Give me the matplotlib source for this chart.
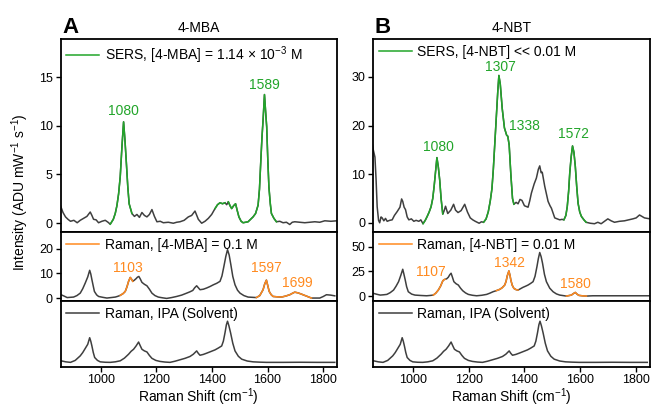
import numpy as np
import matplotlib

matplotlib.use("Agg")
import matplotlib.pyplot as plt

plt.rcParams["font.family"] = ["Liberation Sans", "DejaVu Sans"]
plt.rcParams["mathtext.fontset"] = "custom"
plt.rcParams["mathtext.rm"] = "Liberation Sans"
plt.rcParams["mathtext.it"] = "Liberation Sans:italic"
plt.rcParams["mathtext.bf"] = "Liberation Sans:bold"

# ---- spectra (Raman shift in cm-1, intensity) ----
mba_sers_x = [855, 864, 873, 882, 891, 903, 915, 926, 938, 950, 962, 968, 974, 983, 992, 1004, 1016,
              1026, 1034, 1045, 1052, 1058, 1064, 1070, 1076, 1082, 1087, 1092, 1097, 1102, 1112,
              1121, 1130, 1139, 1148, 1157, 1166, 1175, 1184, 1193, 1202, 1214, 1225, 1243, 1261,
              1273, 1285, 1300, 1315, 1327, 1339, 1351, 1363, 1375, 1387, 1399, 1411, 1420, 1429,
              1438, 1447, 1453, 1459, 1465, 1471, 1478, 1485, 1491, 1497, 1505, 1512, 1521, 1530,
              1539, 1548, 1557, 1566, 1571, 1576, 1580, 1584, 1589, 1593, 1597, 1601, 1605, 1610,
              1614, 1623, 1632, 1644, 1656, 1668, 1680, 1689, 1698, 1716, 1734, 1752, 1770, 1788,
              1806, 1828, 1850]
mba_sers_y = [1.8, 1.1, 0.65, 0.4, 0.2, 0.3, 0.05, 0.3, 0.5, 0.7, 1.15, 0.8, 0.4, 0.35, 0.05, 0.2,
              0.3, 0.1, -0.1, 0.4, 1.0, 1.8, 3.0, 4.8, 7.8, 10.4, 8.5, 6.2, 3.8, 2.0, 1.0, 0.7, 0.9,
              0.6, 1.1, 0.8, 0.65, 0.9, 1.4, 0.7, 0.15, 0.2, 0.05, 0.1, 0.0, 0.1, 0.15, 0.3, 0.65,
              0.8, 1.25, 0.4, 0.0, 0.2, 0.5, 0.9, 1.5, 1.9, 2.1, 2.0, 2.1, 1.9, 2.2, 1.8, 1.5, 1.8,
              2.0, 1.3, 0.65, 0.2, 0.05, 0.1, 0.15, 0.4, 0.65, 1.0, 1.85, 3.5, 6.5, 8.8, 10.6, 13.2,
              11.5, 9.9, 6.5, 3.7, 2.0, 1.0, 0.5, 0.15, 0.2, 0.05, 0.1, -0.13, 0.1, 0.15, 0.1, 0.05,
              0.1, 0.15, 0.1, 0.25, 0.2, 0.25]

nbt_sers_x = [852, 856, 862, 866, 870, 875, 879, 884, 888, 894, 900, 906, 915, 924, 932, 942, 952,
              958, 962, 967, 972, 978, 984, 993, 1002, 1010, 1020, 1027, 1035, 1043, 1050, 1057,
              1064, 1070, 1075, 1080, 1085, 1090, 1095, 1100, 1106, 1110, 1116, 1124, 1135, 1145,
              1152, 1161, 1172, 1185, 1195, 1205, 1214, 1223, 1237, 1245, 1253, 1262, 1270, 1277,
              1283, 1288, 1292, 1296, 1300, 1304, 1308, 1313, 1320, 1328, 1336, 1340, 1345, 1351,
              1357, 1362, 1370, 1377, 1384, 1391, 1400, 1413, 1419, 1425, 1435, 1443, 1450, 1455,
              1460, 1464, 1473, 1485, 1492, 1497, 1509, 1518, 1527, 1535, 1542, 1549, 1554, 1559,
              1563, 1568, 1573, 1578, 1583, 1588, 1593, 1599, 1605, 1614, 1622, 1637, 1652, 1664,
              1676, 1688, 1700, 1712, 1724, 1742, 1760, 1775, 1790, 1802, 1814, 1823, 1832, 1852]
nbt_sers_y = [16.4, 15.0, 13.5, 9.0, 3.3, 0.5, 0.0, 1.2, 1.0, 0.4, 0.9, 0.3, 0.5, 0.6, 1.5, 2.3,
              3.2, 4.9, 4.4, 3.2, 2.7, 1.2, 0.6, 0.8, 0.3, 0.5, 0.3, 0.6, -0.2, 0.5, 1.3, 2.2, 3.3,
              5.0, 7.5, 10.5, 13.4, 11.5, 8.8, 5.0, 1.8, 2.3, 3.4, 1.9, 2.6, 3.8, 2.6, 2.1, 2.5, 3.8,
              2.2, 1.0, 0.6, 0.3, -0.1, 0.2, 0.1, 0.8, 2.3, 4.5, 7.0, 11.0, 15.0, 19.0, 23.0, 27.0,
              30.3, 28.5, 23.5, 19.5, 18.0, 17.8, 16.0, 10.0, 5.0, 3.8, 4.2, 3.9, 4.8, 4.6, 3.5, 3.2,
              4.5, 6.1, 8.0, 9.2, 11.0, 11.7, 10.3, 10.4, 7.5, 4.4, 3.5, 3.0, 1.0, 0.8, 0.6, 0.7,
              0.6, 1.5, 3.3, 6.5, 10.2, 13.5, 15.8, 14.5, 11.6, 7.5, 4.0, 2.2, 1.3, 0.6, 0.1, -0.1,
              -0.2, 0.1, -0.2, 0.3, 0.8, 0.4, 0.1, 0.3, 0.4, 0.6, 0.8, 1.0, 1.6, 1.3, 1.0, 0.8]

mba_raman_x = [857, 868, 879, 890, 902, 914, 926, 935, 944, 953, 960, 964, 968, 973, 977, 985, 992,
               1007, 1022, 1037, 1052, 1061, 1070, 1080, 1088, 1094, 1100, 1106, 1110, 1115, 1121,
               1127, 1132, 1137, 1142, 1148, 1157, 1166, 1175, 1184, 1195, 1207, 1222, 1237, 1255,
               1273, 1291, 1309, 1320, 1331, 1338, 1345, 1351, 1357, 1369, 1381, 1393, 1405, 1417,
               1429, 1436, 1443, 1450, 1456, 1462, 1468, 1475, 1483, 1492, 1501, 1515, 1530, 1545,
               1560, 1572, 1584, 1590, 1596, 1601, 1606, 1613, 1620, 1635, 1650, 1665, 1680, 1689,
               1698, 1710, 1722, 1740, 1758, 1773, 1788, 1800, 1812, 1827, 1842]
mba_raman_y = [1.35, 0.8, 0.2, 0.3, 0.4, 1.0, 2.0, 3.8, 6.1, 8.6, 11.3, 9.8, 7.5, 4.8, 2.7, 1.3,
               0.65, 0.3, 0.0, 0.2, 0.4, 0.7, 1.1, 1.8, 2.7, 4.5, 6.8, 8.4, 7.8, 6.8, 7.3, 7.9, 8.5,
               8.8, 7.8, 6.4, 5.6, 5.0, 3.6, 2.0, 1.0, 0.4, 0.1, -0.15, 0.2, 0.65, 1.2, 2.0, 2.5,
               3.1, 4.2, 5.0, 4.2, 3.4, 3.6, 4.1, 4.7, 5.4, 6.0, 6.8, 9.0, 12.9, 17.0, 19.7, 17.5,
               13.6, 8.8, 5.4, 3.2, 2.0, 1.0, 0.4, 0.3, 0.2, 1.0, 3.4, 5.8, 7.3, 5.0, 2.7, 1.4, 0.65,
               0.5, 0.4, 0.8, 1.35, 1.9, 2.4, 2.1, 1.6, 0.8, 0.0, 0.0, 0.0, 0.6, 1.35, 1.2, 0.9]

nbt_raman_x = [857, 869, 881, 893, 905, 917, 929, 938, 947, 955, 962, 966, 971, 976, 982, 994, 1006,
               1027, 1048, 1060, 1072, 1081, 1090, 1098, 1106, 1110, 1114, 1120, 1126, 1131, 1136,
               1141, 1146, 1154, 1162, 1170, 1178, 1188, 1198, 1213, 1228, 1246, 1264, 1276, 1287,
               1299, 1311, 1320, 1329, 1334, 1338, 1344, 1348, 1351, 1356, 1362, 1370, 1377, 1386,
               1395, 1404, 1413, 1422, 1431, 1438, 1445, 1450, 1455, 1460, 1465, 1472, 1479, 1491,
               1503, 1515, 1527, 1539, 1551, 1560, 1569, 1576, 1583, 1590, 1596, 1610, 1623, 1646,
               1670, 1706, 1742, 1772, 1802, 1826, 1850]
nbt_raman_y = [2.7, 1.8, 1.0, 1.3, 1.7, 3.5, 6.1, 10.0, 14.6, 21.0, 27.2, 22.5, 16.3, 9.5, 4.4, 2.0,
               1.0, 0.6, 0.3, 0.6, 1.0, 3.0, 6.1, 10.0, 15.3, 16.5, 17.0, 17.5, 19.1, 21.5, 23.2,
               19.0, 14.6, 12.5, 11.2, 8.0, 5.4, 3.2, 1.7, 0.8, 0.3, 0.8, 1.7, 3.0, 4.4, 5.5, 6.8, 8.5,
               11.2, 15.0, 20.4, 25.5, 21.0, 16.3, 11.0, 7.8, 6.5, 6.1, 7.5, 8.9, 10.0, 11.2, 12.8,
               14.6, 20.0, 29.9, 38.0, 44.2, 40.0, 33.4, 22.0, 14.6, 8.0, 4.4, 2.2, 1.0, 0.5, 0.0, 0.5,
               1.0, 2.5, 3.7, 1.8, 0.7, 0.2, 0.0, 0.3, 0.3, 0.3, 0.3, 0.3, 0.3, 0.3, 0.3]

ipa_x = [857, 874, 891, 908, 926, 935, 944, 953, 960, 964, 968, 973, 978, 988, 998, 1016, 1034,
         1052, 1070, 1085, 1100, 1109, 1118, 1127, 1136, 1142, 1148, 1157, 1166, 1175, 1184, 1198,
         1213, 1231, 1249, 1267, 1285, 1303, 1321, 1333, 1345, 1351, 1357, 1369, 1381, 1396, 1411,
         1423, 1435, 1441, 1447, 1452, 1456, 1461, 1467, 1475, 1483, 1495, 1507, 1527, 1548, 1572,
         1596, 1656, 1716, 1779, 1842]
ipa_y = [1.0, 0.5, 0.25, 1.2, 3.4, 5.0, 7.0, 9.0, 12.2, 10.5, 8.2, 5.0, 2.6, 1.2, 0.5, 0.3, 0.25,
         0.5, 1.0, 2.3, 4.2, 5.6, 6.6, 8.2, 10.1, 8.3, 6.6, 5.8, 5.3, 3.6, 2.2, 1.2, 0.7, 0.4, 0.25,
         0.8, 1.5, 2.2, 3.1, 4.2, 5.8, 4.6, 3.7, 4.1, 4.7, 5.5, 6.3, 7.2, 8.2, 10.5, 14.6, 18.5,
         20.2, 18.0, 14.6, 9.5, 5.8, 3.2, 1.8, 0.9, 0.5, 0.35, 0.25, 0.25, 0.3, 0.25, 0.25]

# highlighted (coloured) ranges of each spectrum
mba_sers_hl = [(1030, 1112), (1400, 1447), (1459, 1640)]
nbt_sers_hl = [(1030, 1106), (1250, 1363), (1540, 1625)]
mba_raman_hl = [(1065, 1115), (1555, 1760)]
nbt_raman_hl = [(1065, 1116), (1299, 1378), (1545, 1625)]

# peak labels: text, x, y (text baseline, data units), alignment
mba_sers_labels = [("1080", 1081, 11.1, "center"), ("1589", 1590, 13.8, "center")]
nbt_sers_labels = [("1080", 1089, 14.8, "center"), ("1307", 1315, 31.2, "center"),
                   ("1338", 1343, 19.1, "left"), ("1572", 1577, 17.5, "center")]
mba_raman_labels = [("1103", 1099, 10.7, "center"), ("1597", 1597, 10.7, "center"),
                    ("1699", 1708, 4.6, "center")]
nbt_raman_labels = [("1107", 1064, 20.4, "center"), ("1342", 1347, 29.6, "center"),
                    ("1580", 1582, 8.2, "center")]

GREEN = "#22a52a"
ORANGE = "#ff8a1f"
GRAY = "#3f3f3f"
LW = 1.1
FS = 10

W, H = 651, 409
fig = plt.figure(figsize=(W / 100, H / 100), dpi=100)


def box(px_left, px_top, px_bottom):
    return [px_left / W, 1 - px_bottom / H, 276.5 / W, (px_bottom - px_top) / H]


def style_axes(ax, show_x):
    for s in ax.spines.values():
        s.set_linewidth(1.3)
    ax.set_xlim(855, 1850)
    ax.tick_params(axis="both", direction="out", length=3.5, width=1, labelsize=9, pad=2)
    if show_x:
        ax.set_xticks([1000, 1200, 1400, 1600, 1800])
    else:
        ax.tick_params(axis="x", bottom=False, labelbottom=False)


def draw_spectrum(ax, xs, ys, hl, color, label):
    xs = np.asarray(xs, float)
    ys = np.asarray(ys, float)
    ax.plot(xs, ys, color=GRAY, lw=LW)
    mask = np.zeros_like(xs, dtype=bool)
    for a, b in hl:
        mask |= (xs >= a) & (xs <= b)
    ax.plot(xs, np.where(mask, ys, np.nan), color=color, lw=LW)
    # legend proxy
    ax.plot([], [], color=color, lw=LW, label=label)
    handles, labels = ax.get_legend_handles_labels()
    ax.legend(handles[-1:], labels[-1:], loc="upper left", frameon=False, fontsize=FS,
              handlelength=2.4, handletextpad=0.4, borderaxespad=0.1, borderpad=0.3)


def draw_labels(ax, labels, color):
    for txt, x, y, ha in labels:
        ax.text(x, y, txt, color=color, fontsize=FS, ha=ha, va="baseline")


columns = [
    dict(left=60.5, name="4-MBA", letter="A",
         sers=(mba_sers_x, mba_sers_y, mba_sers_hl, mba_sers_labels),
         sers_label="SERS, [4-MBA] = 1.14 $\\times$ 10$^{-3}$ M", sers_ylim=(-0.9, 18.9),
         sers_ticks=[0, 5, 10, 15],
         raman=(mba_raman_x, mba_raman_y, mba_raman_hl, mba_raman_labels),
         raman_label="Raman, [4-MBA] = 0.1 M", raman_ylim=(-1.2, 26.9), raman_ticks=[0, 10, 20]),
    dict(left=373.0, name="4-NBT", letter="B",
         sers=(nbt_sers_x, nbt_sers_y, nbt_sers_hl, nbt_sers_labels),
         sers_label="SERS, [4-NBT] << 0.01 M", sers_ylim=(-1.9, 37.8),
         sers_ticks=[0, 10, 20, 30],
         raman=(nbt_raman_x, nbt_raman_y, nbt_raman_hl, nbt_raman_labels),
         raman_label="Raman, [4-NBT] = 0.01 M", raman_ylim=(-5, 65), raman_ticks=[0, 25, 50]),
]

for col in columns:
    ax1 = fig.add_axes(box(col["left"], 39, 232))
    ax2 = fig.add_axes(box(col["left"], 232, 301))
    ax3 = fig.add_axes(box(col["left"], 301, 367))

    sx, sy, shl, slab = col["sers"]
    draw_spectrum(ax1, sx, sy, shl, GREEN, col["sers_label"])
    draw_labels(ax1, slab, GREEN)
    ax1.set_ylim(*col["sers_ylim"])
    ax1.set_yticks(col["sers_ticks"])
    style_axes(ax1, False)
    ax1.set_title(col["name"], fontsize=FS, pad=5)

    rx, ry, rhl, rlab = col["raman"]
    draw_spectrum(ax2, rx, ry, rhl, ORANGE, col["raman_label"])
    draw_labels(ax2, rlab, ORANGE)
    ax2.set_ylim(*col["raman_ylim"])
    ax2.set_yticks(col["raman_ticks"])
    style_axes(ax2, False)

    draw_spectrum(ax3, ipa_x, ipa_y, [], GRAY, "Raman, IPA (Solvent)")
    ax3.set_ylim(-2, 30)
    ax3.set_yticks([])
    style_axes(ax3, True)
    ax3.tick_params(axis="x", pad=1.5)
    ax3.set_xlabel("Raman Shift (cm$^{-1}$)", fontsize=FS, labelpad=0.5)

    fig.text((col["left"] + 1.5) / W, 1 - 33 / H, col["letter"], fontsize=16, fontweight="bold",
             va="baseline", ha="left")

fig.text(20 / W, 1 - 192 / H, "Intensity (ADU mW$^{-1}$ s$^{-1}$)", rotation=90,
         fontsize=FS, ha="center", va="center")

fig.savefig("out.png", dpi=100)
